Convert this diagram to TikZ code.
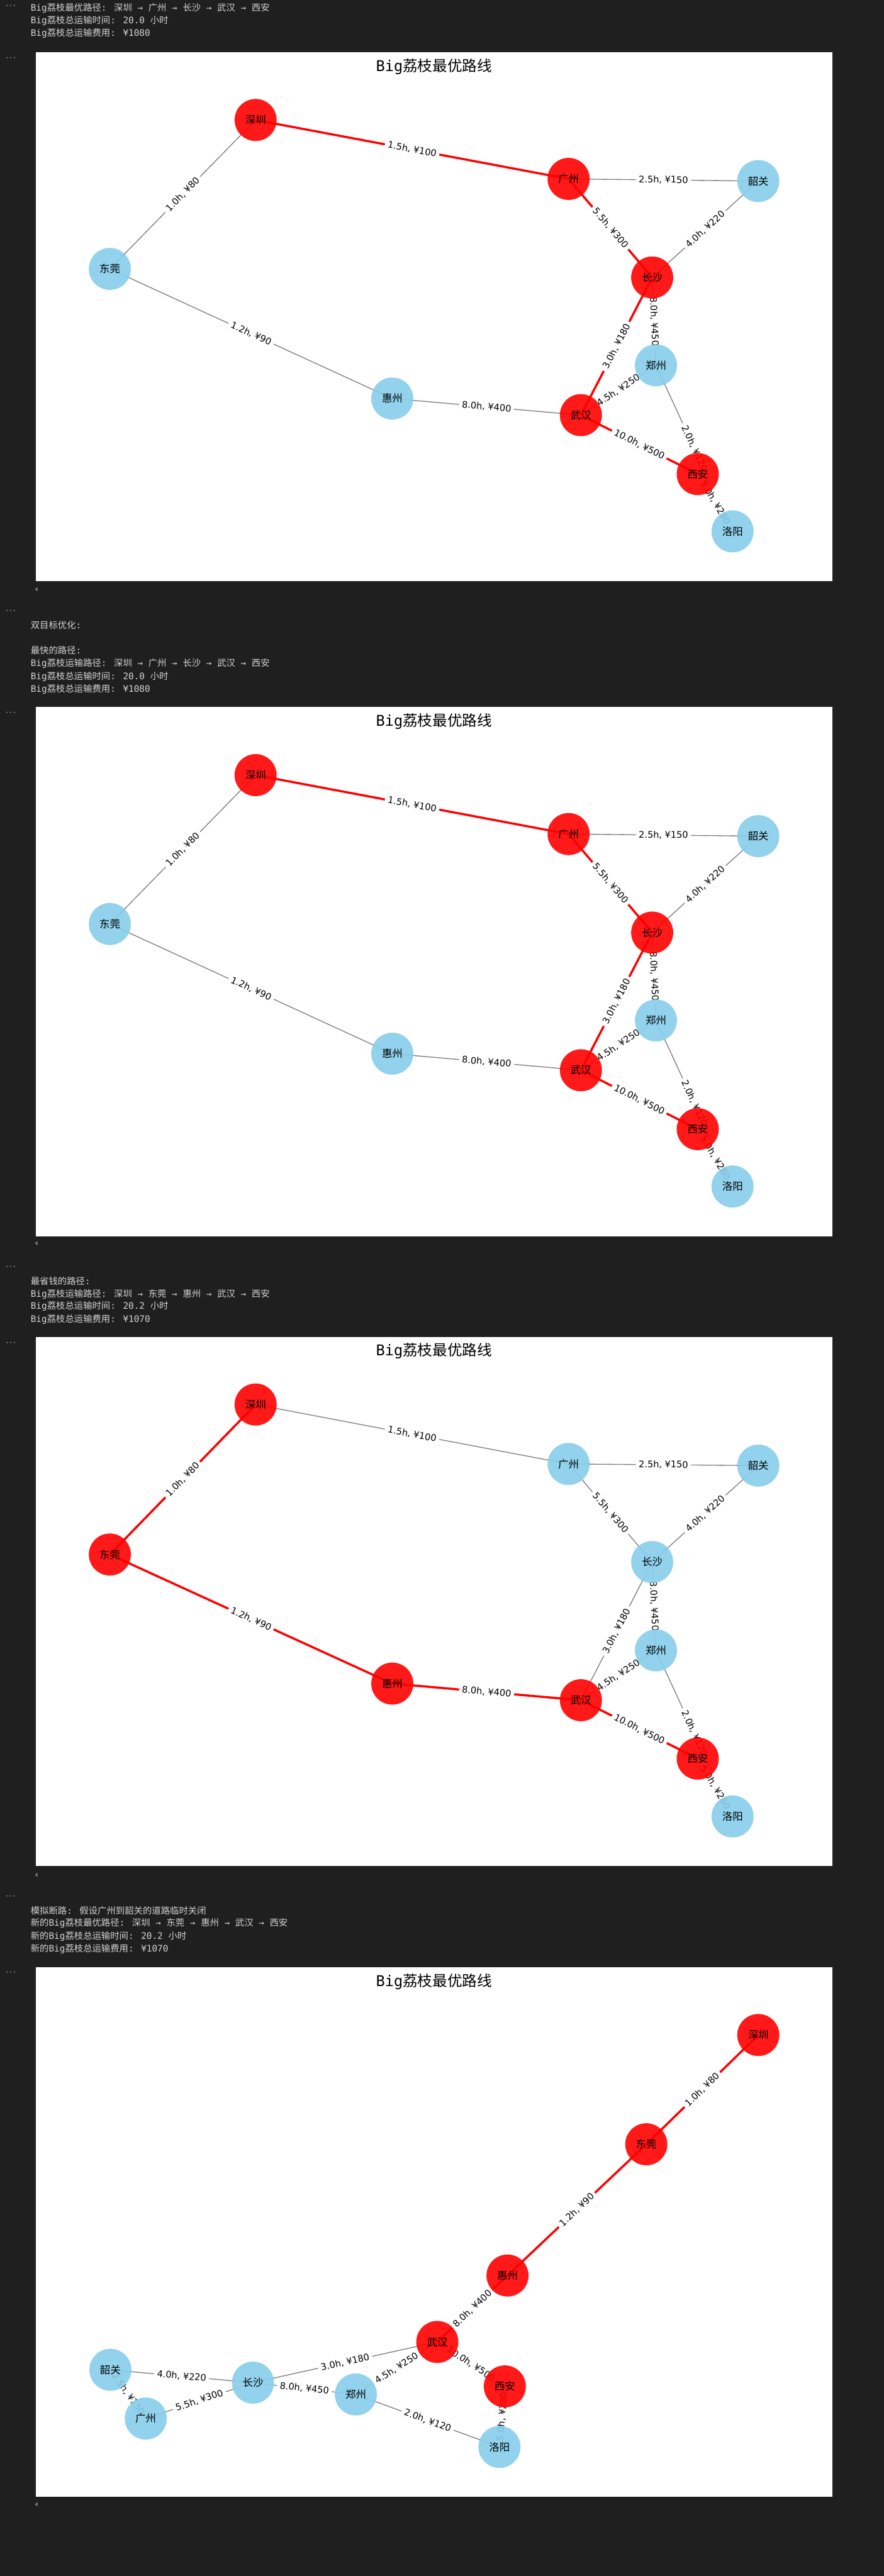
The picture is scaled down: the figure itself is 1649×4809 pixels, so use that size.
\documentclass[tikz,border=0pt]{standalone}
\usepackage{fontspec}
\newfontfamily\zhfont{Noto Sans CJK SC}
\newfontfamily\monofont{DejaVu Sans Mono}
\newfontfamily\lblfont{DejaVu Sans}
\newcommand{\zh}[1]{{\zhfont #1}}
\definecolor{nbbg}{HTML}{1F1F1F}
\definecolor{nbtext}{HTML}{D4D4D4}
\definecolor{skyblue}{HTML}{87CEEB}
\definecolor{edgegray}{HTML}{808080}
\definecolor{scrollgray}{HTML}{7A7A7A}
\pgfdeclarelayer{back}
\pgfdeclarelayer{bg}
\pgfsetlayers{back,bg,main}

\begin{document}
\begin{tikzpicture}[x=0.02cm,y=-0.02cm,
  printout/.style={anchor=base west,inner sep=0pt,text=nbtext,
                   font=\monofont\fontsize{9.6}{12}\selectfont},
  dotmark/.style={inner sep=0pt,text=nbtext,font=\monofont\fontsize{6.5}{7}\selectfont},
  ttl/.style={font=\zhfont\fontsize{15.8}{16}\selectfont},
  city/.style={circle,minimum size=1.57cm,inner sep=0pt,fill=skyblue,fill opacity=0.9,
               text opacity=1,font=\zhfont\fontsize{11}{11}\selectfont},
  hot/.style={city,fill=red},
  road/.style={draw=edgegray,line width=0.9pt},
  best/.style={draw=red,line width=2.3pt},
  lbl/.style={sloped,fill=white,rounded corners=3pt,inner xsep=0.11cm,inner ysep=0.07cm,
              text=black,font=\lblfont\fontsize{9.7}{10}\selectfont},
]

% Notebook background + scroll marks
\begin{pgfonlayer}{back}
  \fill[nbbg] (0,0) rectangle (1649,4809);
  \fill[scrollgray] (65,1100) -- (70,1096) -- (70,1104) -- cycle;
  \fill[scrollgray] (65,2321) -- (70,2317) -- (70,2325) -- cycle;
  \fill[scrollgray] (65,3500) -- (70,3496) -- (70,3504) -- cycle;
  \fill[scrollgray] (65,4675) -- (70,4671) -- (70,4679) -- cycle;
\end{pgfonlayer}

% Cell markers
\node[dotmark] (d1) at (20,12) {···};
\node[dotmark] (d2) at (20,110) {···};
\node[dotmark] (d3) at (20,1142) {···};
\node[dotmark] (d4) at (20,1332) {···};
\node[dotmark] (d5) at (20,2366) {···};
\node[dotmark] (d6) at (20,2508) {···};
\node[dotmark] (d7) at (20,3542) {···};
\node[dotmark] (d8) at (20,3684) {···};

% Printed output 1
\node[printout] (t1a) at (57,20) {Big\zh{荔枝最优路径}: \zh{深圳} → \zh{广州} → \zh{长沙} → \zh{武汉} → \zh{西安}};
\node[printout] (t1b) at (57,44) {Big\zh{荔枝总运输时间}: 20.0 \zh{小时}};
\node[printout] (t1c) at (57,68) {Big\zh{荔枝总运输费用}: ¥1080};

% Plot 1: best route
\begin{scope}[shift={(67,98)},name prefix=a-]
  \begin{pgfonlayer}{back}
    \fill[white] (0,0) rectangle (1486,987);
  \end{pgfonlayer}
  \node[ttl] (title) at (743,26) {{\monofont Big}荔枝最优路线};
  \node[hot]  (sz) at (410,126) {深圳};
  \node[hot]  (gz) at (994,236) {广州};
  \node[city] (sg) at (1348,240) {韶关};
  \node[hot]  (cs) at (1150,420) {长沙};
  \node[city] (dg) at (138,404) {东莞};
  \node[city] (zz) at (1157,584) {郑州};
  \node[city] (hz) at (665,646) {惠州};
  \node[hot]  (wh) at (1017,677) {武汉};
  \node[hot]  (xa) at (1235,787) {西安};
  \node[city] (ly) at (1300,894) {洛阳};
  \begin{pgfonlayer}{bg}
    \draw[best] (sz.center) -- node[lbl] {1.5h, ¥100} (gz.center);
    \draw[best] (gz.center) -- node[lbl] {5.5h, ¥300} (cs.center);
    \draw[best] (cs.center) -- node[lbl] {3.0h, ¥180} (wh.center);
    \draw[best] (wh.center) -- node[lbl] {10.0h, ¥500} (xa.center);
    \draw[road] (sz.center) -- node[lbl] {1.0h, ¥80} (dg.center);
    \draw[road] (dg.center) -- node[lbl] {1.2h, ¥90} (hz.center);
    \draw[road] (gz.center) -- node[lbl] {2.5h, ¥150} (sg.center);
    \draw[road] (sg.center) -- node[lbl] {4.0h, ¥220} (cs.center);
    \draw[road] (cs.center) -- node[lbl] {8.0h, ¥450} (zz.center);
    \draw[road] (hz.center) -- node[lbl] {8.0h, ¥400} (wh.center);
    \draw[road] (wh.center) -- node[lbl] {4.5h, ¥250} (zz.center);
    \draw[road] (zz.center) -- node[lbl] {2.0h, ¥120} (ly.center);
    \draw[road] (xa.center) -- node[lbl] {5.0h, ¥280} (ly.center);
  \end{pgfonlayer}
\end{scope}

% Printed output 2
\node[printout] (t2a) at (57,1173) {\zh{双目标优化}:};
\node[printout] (t2b) at (57,1220) {\zh{最快的路径}:};
\node[printout] (t2c) at (57,1244) {Big\zh{荔枝运输路径}: \zh{深圳} → \zh{广州} → \zh{长沙} → \zh{武汉} → \zh{西安}};
\node[printout] (t2d) at (57,1268) {Big\zh{荔枝总运输时间}: 20.0 \zh{小时}};
\node[printout] (t2e) at (57,1292) {Big\zh{荔枝总运输费用}: ¥1080};

% Plot 2: fastest route
\begin{scope}[shift={(67,1320)},name prefix=b-]
  \begin{pgfonlayer}{back}
    \fill[white] (0,0) rectangle (1486,988);
  \end{pgfonlayer}
  \node[ttl] (title) at (743,27) {{\monofont Big}荔枝最优路线};
  \node[hot]  (sz) at (410,127) {深圳};
  \node[hot]  (gz) at (994,237) {广州};
  \node[city] (sg) at (1348,241) {韶关};
  \node[hot]  (cs) at (1150,421) {长沙};
  \node[city] (dg) at (138,405) {东莞};
  \node[city] (zz) at (1157,585) {郑州};
  \node[city] (hz) at (665,647) {惠州};
  \node[hot]  (wh) at (1017,678) {武汉};
  \node[hot]  (xa) at (1235,788) {西安};
  \node[city] (ly) at (1300,895) {洛阳};
  \begin{pgfonlayer}{bg}
    \draw[best] (sz.center) -- node[lbl] {1.5h, ¥100} (gz.center);
    \draw[best] (gz.center) -- node[lbl] {5.5h, ¥300} (cs.center);
    \draw[best] (cs.center) -- node[lbl] {3.0h, ¥180} (wh.center);
    \draw[best] (wh.center) -- node[lbl] {10.0h, ¥500} (xa.center);
    \draw[road] (sz.center) -- node[lbl] {1.0h, ¥80} (dg.center);
    \draw[road] (dg.center) -- node[lbl] {1.2h, ¥90} (hz.center);
    \draw[road] (gz.center) -- node[lbl] {2.5h, ¥150} (sg.center);
    \draw[road] (sg.center) -- node[lbl] {4.0h, ¥220} (cs.center);
    \draw[road] (cs.center) -- node[lbl] {8.0h, ¥450} (zz.center);
    \draw[road] (hz.center) -- node[lbl] {8.0h, ¥400} (wh.center);
    \draw[road] (wh.center) -- node[lbl] {4.5h, ¥250} (zz.center);
    \draw[road] (zz.center) -- node[lbl] {2.0h, ¥120} (ly.center);
    \draw[road] (xa.center) -- node[lbl] {5.0h, ¥280} (ly.center);
  \end{pgfonlayer}
\end{scope}

% Printed output 3
\node[printout] (t3a) at (57,2398) {\zh{最省钱的路径}:};
\node[printout] (t3b) at (57,2421) {Big\zh{荔枝运输路径}: \zh{深圳} → \zh{东莞} → \zh{惠州} → \zh{武汉} → \zh{西安}};
\node[printout] (t3c) at (57,2444) {Big\zh{荔枝总运输时间}: 20.2 \zh{小时}};
\node[printout] (t3d) at (57,2468) {Big\zh{荔枝总运输费用}: ¥1070};

% Plot 3: cheapest route
\begin{scope}[shift={(67,2496)},name prefix=c-]
  \begin{pgfonlayer}{back}
    \fill[white] (0,0) rectangle (1486,988);
  \end{pgfonlayer}
  \node[ttl] (title) at (743,26) {{\monofont Big}荔枝最优路线};
  \node[hot]  (sz) at (410,126) {深圳};
  \node[city] (gz) at (994,237) {广州};
  \node[city] (sg) at (1348,240) {韶关};
  \node[city] (cs) at (1150,420) {长沙};
  \node[hot]  (dg) at (138,406) {东莞};
  \node[city] (zz) at (1157,585) {郑州};
  \node[hot]  (hz) at (665,647) {惠州};
  \node[hot]  (wh) at (1017,678) {武汉};
  \node[hot]  (xa) at (1235,787) {西安};
  \node[city] (ly) at (1300,895) {洛阳};
  \begin{pgfonlayer}{bg}
    \draw[best] (sz.center) -- node[lbl] {1.0h, ¥80} (dg.center);
    \draw[best] (dg.center) -- node[lbl] {1.2h, ¥90} (hz.center);
    \draw[best] (hz.center) -- node[lbl] {8.0h, ¥400} (wh.center);
    \draw[best] (wh.center) -- node[lbl] {10.0h, ¥500} (xa.center);
    \draw[road] (sz.center) -- node[lbl] {1.5h, ¥100} (gz.center);
    \draw[road] (gz.center) -- node[lbl] {2.5h, ¥150} (sg.center);
    \draw[road] (gz.center) -- node[lbl] {5.5h, ¥300} (cs.center);
    \draw[road] (sg.center) -- node[lbl] {4.0h, ¥220} (cs.center);
    \draw[road] (cs.center) -- node[lbl] {3.0h, ¥180} (wh.center);
    \draw[road] (cs.center) -- node[lbl] {8.0h, ¥450} (zz.center);
    \draw[road] (wh.center) -- node[lbl] {4.5h, ¥250} (zz.center);
    \draw[road] (zz.center) -- node[lbl] {2.0h, ¥120} (ly.center);
    \draw[road] (xa.center) -- node[lbl] {5.0h, ¥280} (ly.center);
  \end{pgfonlayer}
\end{scope}

% Printed output 4
\node[printout] (t4a) at (57,3573) {\zh{模拟断路}: \zh{假设广州到韶关的道路临时关闭}};
\node[printout] (t4b) at (57,3596) {\zh{新的}Big\zh{荔枝最优路径}: \zh{深圳} → \zh{东莞} → \zh{惠州} → \zh{武汉} → \zh{西安}};
\node[printout] (t4c) at (57,3620) {\zh{新的}Big\zh{荔枝总运输时间}: 20.2 \zh{小时}};
\node[printout] (t4d) at (57,3644) {\zh{新的}Big\zh{荔枝总运输费用}: ¥1070};

% Plot 4: road closed
\begin{scope}[shift={(67,3673)},name prefix=d-]
  \begin{pgfonlayer}{back}
    \fill[white] (0,0) rectangle (1486,988);
  \end{pgfonlayer}
  \node[ttl] (title) at (743,26) {{\monofont Big}荔枝最优路线};
  \node[hot]  (sz) at (1348,126) {深圳};
  \node[hot]  (dg) at (1139,330) {东莞};
  \node[hot]  (hz) at (880,575) {惠州};
  \node[hot]  (wh) at (749,699) {武汉};
  \node[hot]  (xa) at (875,782) {西安};
  \node[city] (ly) at (865,895) {洛阳};
  \node[city] (zz) at (597,797) {郑州};
  \node[city] (cs) at (405,775) {长沙};
  \node[city] (sg) at (139,751) {韶关};
  \node[city] (gz) at (205,842) {广州};
  \begin{pgfonlayer}{bg}
    \draw[best] (sz.center) -- node[lbl] {1.0h, ¥80} (dg.center);
    \draw[best] (dg.center) -- node[lbl] {1.2h, ¥90} (hz.center);
    \draw[best] (hz.center) -- node[lbl] {8.0h, ¥400} (wh.center);
    \draw[best] (wh.center) -- node[lbl] {10.0h, ¥500} (xa.center);
    \draw[road] (sg.center) -- node[lbl] {2.5h, ¥150} (gz.center);
    \draw[road] (sg.center) -- node[lbl] {4.0h, ¥220} (cs.center);
    \draw[road] (gz.center) -- node[lbl] {5.5h, ¥300} (cs.center);
    \draw[road] (cs.center) -- node[lbl] {3.0h, ¥180} (wh.center);
    \draw[road] (cs.center) -- node[lbl] {8.0h, ¥450} (zz.center);
    \draw[road] (wh.center) -- node[lbl] {4.5h, ¥250} (zz.center);
    \draw[road] (zz.center) -- node[lbl] {2.0h, ¥120} (ly.center);
    \draw[road] (xa.center) -- node[lbl] {5.0h, ¥280} (ly.center);
  \end{pgfonlayer}
\end{scope}

\end{tikzpicture}
\end{document}
